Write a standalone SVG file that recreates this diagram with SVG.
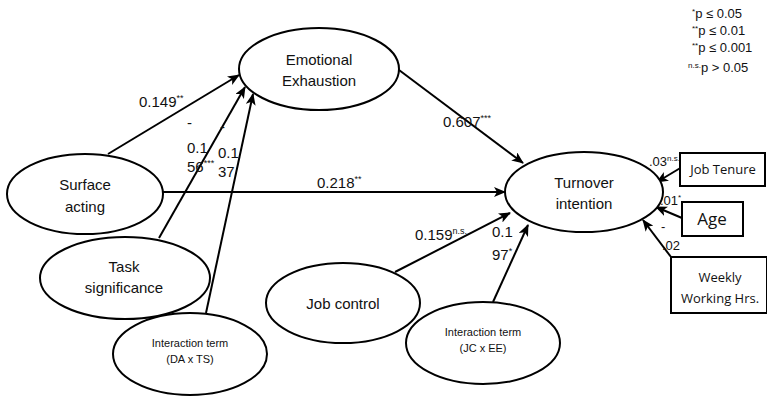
<svg xmlns="http://www.w3.org/2000/svg" width="767" height="397" viewBox="0 0 767 397">
<defs>
<style>
.n ellipse,.n rect{fill:#fff;stroke:#000;stroke-width:2}
.t{font-family:"Liberation Sans",Arial,sans-serif;font-size:15px;fill:#111;text-anchor:middle}
.s{font-family:"Liberation Sans",Arial,sans-serif;font-size:11px;fill:#111;text-anchor:middle}
.b{font-family:"Open Sans","Liberation Sans",sans-serif;font-size:13px;fill:#111;text-anchor:middle}
.l{font-family:"Liberation Sans",Arial,sans-serif;font-size:15px;fill:#111}
.l tspan.sup{font-size:9px}
.g{font-family:"Liberation Sans",Arial,sans-serif;font-size:13px;fill:#111}
.g tspan.sup{font-size:8px}
#edges line{stroke:#000;stroke-width:2;marker-end:url(#ah)}
</style>
<marker id="ah" viewBox="0 0 12 10" refX="11" refY="5" markerWidth="12" markerHeight="10" markerUnits="userSpaceOnUse" orient="auto">
<path d="M0,0 L12,5 L0,10 L3,5 z" fill="#000"/>
</marker>
</defs>
<rect width="767" height="397" fill="#fff"/>
<g id="edges">
<line x1="108" y1="154" x2="239" y2="75"/>
<line x1="159" y1="238" x2="245" y2="87"/>
<line x1="206" y1="313" x2="253" y2="94"/>
<line x1="162" y1="192" x2="505" y2="192"/>
<line x1="399" y1="70" x2="523" y2="163"/>
<line x1="395" y1="272" x2="510" y2="213"/>
<line x1="493" y1="302" x2="528" y2="225"/>
<line x1="682" y1="167" x2="657" y2="182"/>
<line x1="682" y1="218" x2="656" y2="207"/>
<line x1="671" y1="257" x2="643" y2="220"/>
</g>
<g id="emotional-exhaustion" class="n">
<ellipse cx="319" cy="69" rx="80" ry="41"/>
<text class="t" x="319" y="65">Emotional</text>
<text class="t" x="319" y="86">Exhaustion</text>
</g>
<g id="surface-acting" class="n">
<ellipse cx="85" cy="194" rx="78" ry="40"/>
<text class="t" x="85" y="190">Surface</text>
<text class="t" x="85" y="212">acting</text>
</g>
<g id="task-significance" class="n">
<ellipse cx="125" cy="278" rx="85" ry="41"/>
<text class="t" x="124" y="272">Task</text>
<text class="t" x="124" y="293">significance</text>
</g>
<g id="interaction-da-ts" class="n">
<ellipse cx="190" cy="354" rx="77" ry="41"/>
<text class="s" x="190" y="347">Interaction term</text>
<text class="s" x="190" y="363">(DA x TS)</text>
</g>
<g id="turnover-intention" class="n">
<ellipse cx="584" cy="192" rx="79" ry="40"/>
<text class="t" x="584" y="188">Turnover</text>
<text class="t" x="584" y="209">intention</text>
</g>
<g id="job-control" class="n">
<ellipse cx="343" cy="303" rx="77" ry="40"/>
<text class="t" x="343" y="309">Job control</text>
</g>
<g id="interaction-jc-ee" class="n">
<ellipse cx="483" cy="343" rx="77" ry="41"/>
<text class="s" x="483" y="336">Interaction term</text>
<text class="s" x="483" y="352">(JC x EE)</text>
</g>
<g id="job-tenure" class="n">
<rect x="680" y="153" width="85" height="33"/>
<text class="b" x="723" y="174">Job Tenure</text>
</g>
<g id="age" class="n">
<rect x="682" y="202" width="61" height="34"/>
<text class="b" x="712" y="225" style="font-size:17px">Age</text>
</g>
<g id="weekly-working-hrs" class="n">
<rect x="671" y="257" width="96" height="56"/>
<text class="b" x="720" y="282">Weekly</text>
<text class="b" x="720" y="303">Working Hrs.</text>
</g>
<g id="labels">
<text class="l" x="139" y="107">0.149<tspan class="sup" dy="-6">**</tspan></text>
<text class="l" x="187" y="128">-</text>
<text class="l" x="187" y="153">0.1</text>
<text class="l" x="187" y="172">56<tspan class="sup" dy="-6">***</tspan></text>
<text class="l" x="220" y="132">-</text>
<text class="l" x="218" y="158">0.1</text>
<text class="l" x="218" y="177">37</text>
<text class="l" x="317" y="188">0.218<tspan class="sup" dy="-6">**</tspan></text>
<text class="l" x="443" y="127">0.607<tspan class="sup" dy="-6">***</tspan></text>
<text class="l" x="415" y="240">0.159<tspan class="sup" dy="-6">n.s.</tspan></text>
<text class="l" x="492" y="237">0.1</text>
<text class="l" x="492" y="260">97<tspan class="sup" dy="-6">*</tspan></text>
<text class="g" x="649" y="166">.03<tspan class="sup" dy="-5">n.s.</tspan></text>
<text class="g" x="660" y="205">.01<tspan class="sup" dy="-5">*</tspan></text>
<text class="g" x="661" y="231">-</text>
<text class="g" x="662" y="250">.02</text>
</g>
<g id="legend">
<text class="g" x="692" y="18"><tspan class="sup" dy="-4">*</tspan><tspan dy="4">p ≤ 0.05</tspan></text>
<text class="g" x="692" y="35"><tspan class="sup" dy="-4">**</tspan><tspan dy="4">p ≤ 0.01</tspan></text>
<text class="g" x="692" y="52"><tspan class="sup" dy="-4">**</tspan><tspan dy="4">p ≤ 0.001</tspan></text>
<text class="g" x="688" y="72"><tspan class="sup" dy="-4">n.s.</tspan><tspan dy="4">p &gt; 0.05</tspan></text>
</g>
</svg>
